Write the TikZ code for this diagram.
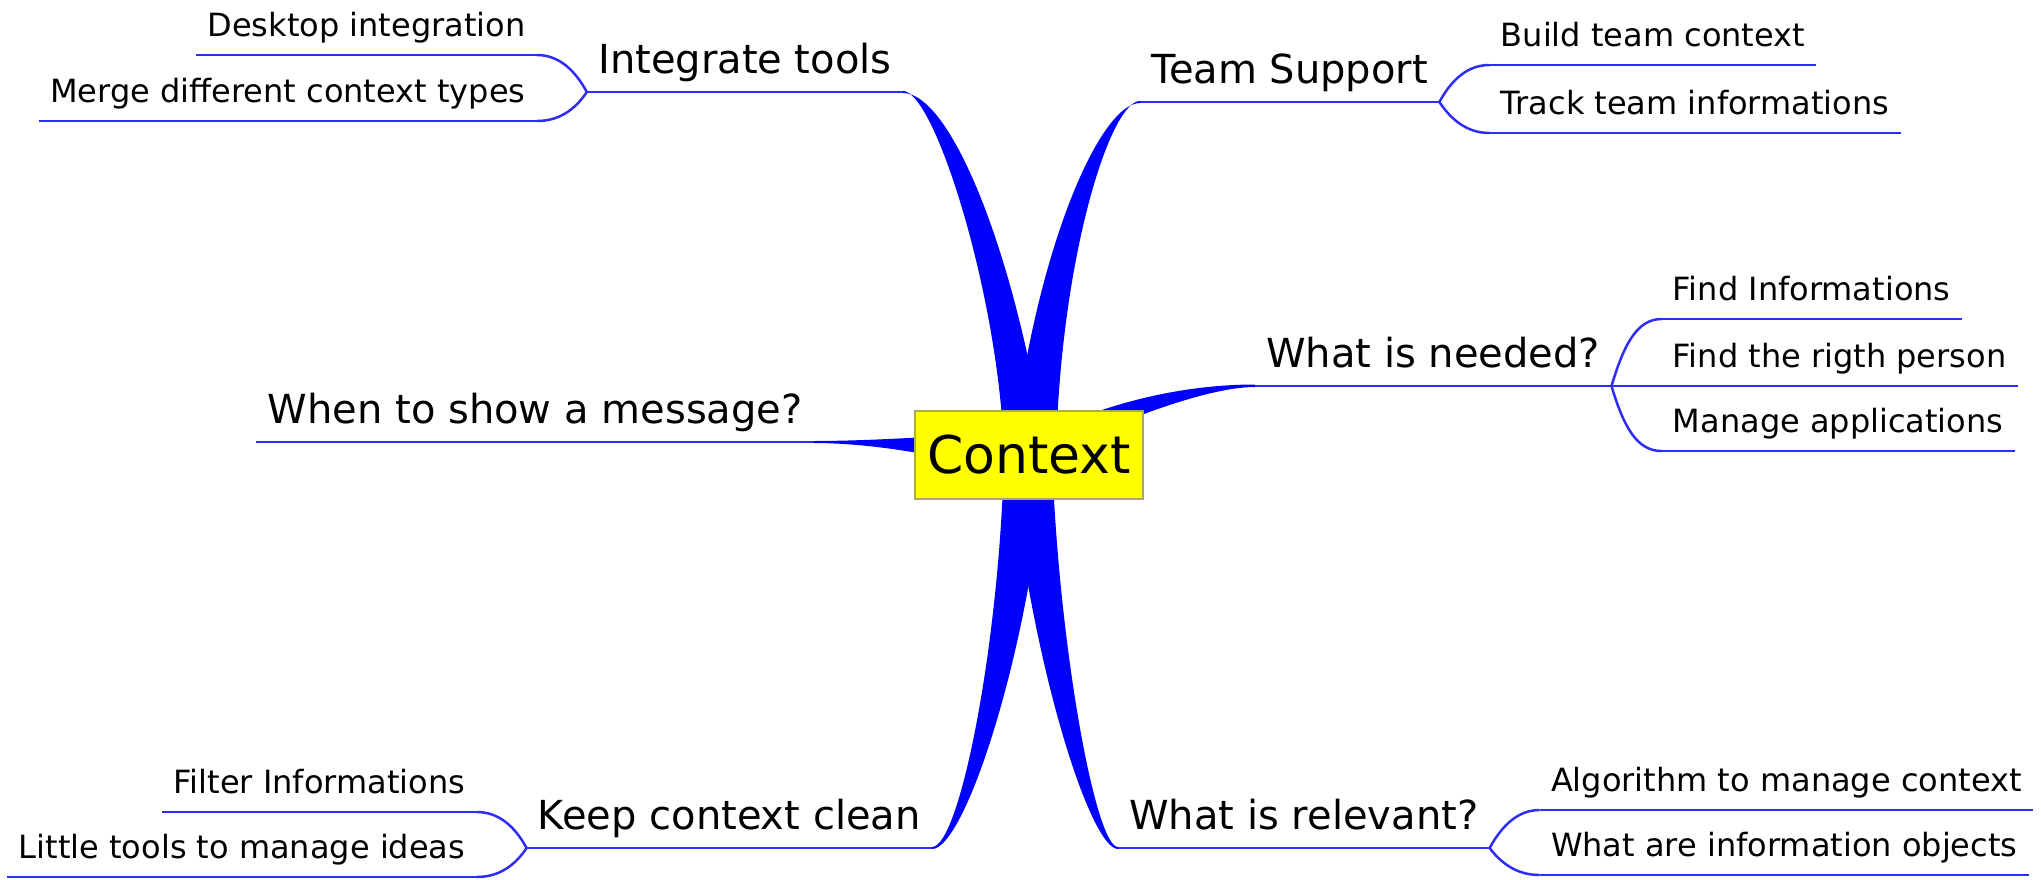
\documentclass[tikz,border=0pt]{standalone}
\usepackage{fontspec}
\setmainfont{DejaVu Sans}
\usepackage{tikz}
\usetikzlibrary{positioning}

\definecolor{mapblue}{RGB}{0,0,255}
\definecolor{twigblue}{RGB}{45,45,245}
\definecolor{rootyellow}{RGB}{255,255,0}
\definecolor{rootedge}{RGB}{170,170,90}

\begin{document}
\begin{tikzpicture}[x=0.5pt,y=-0.5pt,
  branch/.style={font=\fontsize{20pt}{24pt}\selectfont,inner xsep=5.5pt,inner ysep=5pt,text depth=4pt},
  leaf/.style={font=\fontsize{16pt}{19pt}\selectfont,inner xsep=5.5pt,inner ysep=5pt,text depth=4pt},
  trunk/.style={fill=mapblue},
  twig/.style={draw=twigblue,line width=1.25pt},
  root/.style={draw=rootedge,line width=0.6pt,fill=rootyellow,minimum width=114pt,
    minimum height=44pt,font=\fontsize{26pt}{31pt}\selectfont}]
  \useasboundingbox (0,0) rectangle (2041,879);
  \coordinate (ctr) at (1029,455);

  % main topics
  \node[branch,anchor=south east] (it) at (903,92) {Integrate tools};
  \node[branch,anchor=south west] (ts) at (1140,102) {Team Support};
  \node[branch,anchor=south west] (wn) at (1255,386) {What is needed?};
  \node[branch,anchor=south east] (ws) at (814,442) {When to show a message?};
  \node[branch,anchor=south east] (kc) at (932,848) {Keep context clean};
  \node[branch,anchor=south west] (wr) at (1118,848) {What is relevant?};

  % sub topics
  \node[leaf,above left=18.5pt and 25pt of it.south west] (di) {Desktop integration};
  \node[leaf,below left=14.5pt and 25pt of it.south west,anchor=south east] (mt) {Merge different context types};
  \node[leaf,above right=18.5pt and 25pt of ts.south east] (bt) {Build team context};
  \node[leaf,below right=15.5pt and 25pt of ts.south east,anchor=south west] (tt) {Track team informations};
  \node[leaf,above right=33.5pt and 25pt of wn.south east] (fi) {Find Informations};
  \node[leaf,right=25pt of wn.south east,anchor=south west] (fp) {Find the rigth person};
  \node[leaf,below right=32.5pt and 25pt of wn.south east,anchor=south west] (ma) {Manage applications};
  \node[leaf,above left=18pt and 25pt of kc.south west] (fl) {Filter Informations};
  \node[leaf,below left=14.5pt and 25pt of kc.south west,anchor=south east] (lt) {Little tools to manage ideas};
  \node[leaf,above right=19pt and 25pt of wr.south east] (am) {Algorithm to manage context};
  \node[leaf,below right=13.5pt and 25pt of wr.south east,anchor=south west] (io) {What are information objects};

  % underlines
  \foreach \n in {it,ts,wn,ws,kc,wr,di,mt,bt,tt,fi,fp,ma,fl,lt,am,io}
    \draw[twig] (\n.south west) -- (\n.south east);

  % thick branches from the centre
  \fill[trunk] ([shift={(0,-1)}]it.south east) .. controls +(32,0) and +(-4,-155) .. ([shift={(-25,0)}]ctr)
    -- ([shift={(17,0)}]ctr) .. controls +(-31,-205) and +(47,0) .. ([shift={(0,1)}]it.south east) -- cycle;
  \fill[trunk] ([shift={(0,-1)}]ts.south west) .. controls +(-30,0) and +(4,-195) .. ([shift={(27,0)}]ctr)
    -- ([shift={(-17,0)}]ctr) .. controls +(23,-205) and +(-40,0) .. ([shift={(0,1)}]ts.south west) -- cycle;
  \fill[trunk] ([shift={(0,-1.5)}]wn.south west) .. controls +(-55,0) and +(91,-45) .. ([shift={(0,-15)}]ctr)
    -- ([shift={(0,7)}]ctr) .. controls +(71,-32) and +(-55,0) .. ([shift={(0,1)}]wn.south west) -- cycle;
  \fill[trunk] ([shift={(0,-1)}]ws.south east) .. controls +(56,0) and +(-79,6) .. ([shift={(0,-25)}]ctr)
    -- ([shift={(0,25)}]ctr) .. controls +(-79,-25) and +(56,0) .. ([shift={(0,1)}]ws.south east) -- cycle;
  \fill[trunk] ([shift={(0,-1)}]kc.south east) .. controls +(28,0) and +(-4,185) .. ([shift={(-25,0)}]ctr)
    -- ([shift={(17,0)}]ctr) .. controls +(-16,195) and +(33,0) .. ([shift={(0,1)}]kc.south east) -- cycle;
  \fill[trunk] ([shift={(0,-1)}]wr.south west) .. controls +(-23,0) and +(6,185) .. ([shift={(23,0)}]ctr)
    -- ([shift={(-19,0)}]ctr) .. controls +(20,205) and +(-28,0) .. ([shift={(0,1)}]wr.south west) -- cycle;

  % forks to the sub topics
  \draw[twig] (it.south west) .. controls +(-12,-22) and +(22,0) .. (di.south east);
  \draw[twig] (it.south west) .. controls +(-12,18) and +(22,0) .. (mt.south east);
  \draw[twig] (ts.south east) .. controls +(12,-22) and +(-22,0) .. (bt.south west);
  \draw[twig] (ts.south east) .. controls +(12,18) and +(-22,0) .. (tt.south west);
  \draw[twig] (wn.south east) .. controls +(12,-40) and +(-25,0) .. (fi.south west);
  \draw[twig] (wn.south east) -- (fp.south west);
  \draw[twig] (wn.south east) .. controls +(12,40) and +(-25,0) .. (ma.south west);
  \draw[twig] (kc.south west) .. controls +(-12,-22) and +(22,0) .. (fl.south east);
  \draw[twig] (kc.south west) .. controls +(-12,18) and +(22,0) .. (lt.south east);
  \draw[twig] (wr.south east) .. controls +(12,-22) and +(-22,0) .. (am.south west);
  \draw[twig] (wr.south east) .. controls +(12,16) and +(-22,0) .. (io.south west);

  \node[root] (root) at (ctr) {Context};
\end{tikzpicture}
\end{document}
